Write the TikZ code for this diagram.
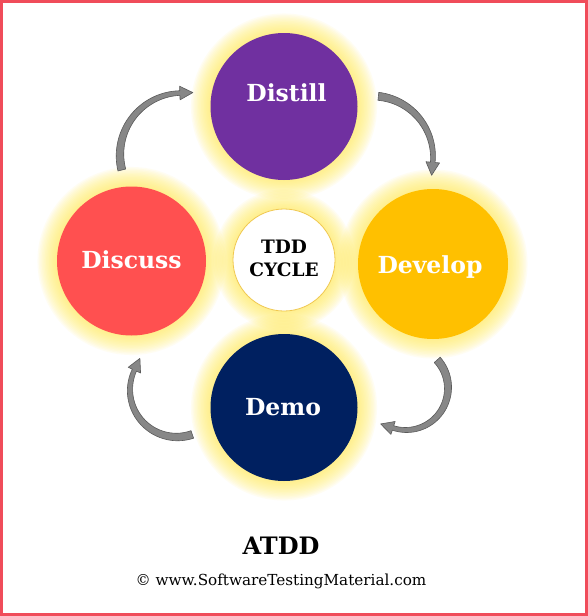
\documentclass[tikz,border=0pt]{standalone}
\usepackage{fontspec}
\setmainfont{DejaVu Serif}
\definecolor{bordercol}{RGB}{240,76,90}
\definecolor{glowc}{RGB}{255,238,90}
\definecolor{cdistill}{RGB}{112,48,160}
\definecolor{cdevelop}{RGB}{255,192,0}
\definecolor{cdemo}{RGB}{0,32,96}
\definecolor{cdiscuss}{RGB}{255,80,80}
\definecolor{ctddedge}{RGB}{240,200,80}
\definecolor{arrfill}{RGB}{135,135,135}
\definecolor{arrdraw}{RGB}{90,90,90}
\tikzset{
  phase/.style={circle, inner sep=0pt, minimum size=#1},
  lbl/.style={anchor=base, text=white, font=\fontsize{23.5}{27}\selectfont\bfseries},
  tddlbl/.style={anchor=base, text=black, font=\fontsize{18.5}{22}\selectfont\bfseries},
  arrowshape/.style={fill=arrfill, draw=arrdraw, line width=0.6pt, line join=round}
}
% curved tapered block arrow: cx, cy, r, tail angle, head-base angle
\newcommand\garrow[5]{%
  \pgfmathsetmacro\gcx{#1}\pgfmathsetmacro\gcy{#2}\pgfmathsetmacro\gr{#3}%
  \pgfmathsetmacro\gta{#4}\pgfmathsetmacro\gtb{#5}%
  \def\gwa{4}\def\gwb{2.3}\def\ghw{6.8}\def\ghl{13}%
  \filldraw[arrowshape]
    plot[domain=\gta:\gtb, samples=40]
      ({\gcx+(\gr+(\gwa+(\gwb-\gwa)*(\x-\gta)/(\gtb-\gta)))*cos(\x)},
       {\gcy+(\gr+(\gwa+(\gwb-\gwa)*(\x-\gta)/(\gtb-\gta)))*sin(\x)})
    -- ({\gcx+(\gr+\ghw)*cos(\gtb)},{\gcy+(\gr+\ghw)*sin(\gtb)})
    -- ({\gcx+\gr*cos(\gtb)-\ghl*sin(\gtb)},{\gcy+\gr*sin(\gtb)+\ghl*cos(\gtb)})
    -- ({\gcx+(\gr-\ghw)*cos(\gtb)},{\gcy+(\gr-\ghw)*sin(\gtb)})
    -- plot[domain=\gtb:\gta, samples=40]
      ({\gcx+(\gr-(\gwa+(\gwb-\gwa)*(\x-\gta)/(\gtb-\gta)))*cos(\x)},
       {\gcy+(\gr-(\gwa+(\gwb-\gwa)*(\x-\gta)/(\gtb-\gta)))*sin(\x)})
    -- cycle;}
\begin{document}
\begin{tikzpicture}[x=1pt,y=-1pt]
\useasboundingbox (0,0) rectangle (588,616);
\fill[white] (0,0) rectangle (588,616);
\draw[bordercol, line width=2.6pt] (1.3,1.3) rectangle (586.7,614.7);

\coordinate (cDistill) at (284,106.5);
\coordinate (cDevelop) at (433,264);
\coordinate (cDemo) at (284,407.5);
\coordinate (cDiscuss) at (131.5,261);
\coordinate (cTdd) at (284,260);

% glows
\foreach \c/\r in {cDistill/73.5, cDevelop/75, cDemo/73.5, cDiscuss/74.5, cTdd/51}{
  \foreach \i in {1,...,14}{
    \pgfmathsetmacro\rr{\r+21-1.45*\i}
    \fill[glowc, opacity=0.075] (\c) circle[radius=\rr pt];
  }
}

% circles
\node[phase=147pt, fill=cdistill] (distill) at (cDistill) {};
\node[phase=150pt, fill=cdevelop] (develop) at (cDevelop) {};
\node[phase=147pt, fill=cdemo] (demo) at (cDemo) {};
\node[phase=149pt, fill=cdiscuss] (discuss) at (cDiscuss) {};
\node[phase=102pt, fill=white, draw=ctddedge, line width=0.8pt] (tdd) at (cTdd) {};

% labels
\node[lbl] (tDistill) at (286.5,101) {Distill};
\node[lbl] (tDevelop) at (430,273) {Develop};
\node[lbl] (tDemo) at (283,415) {Demo};
\node[lbl] (tDiscuss) at (131.5,268) {Discuss};
\node[tddlbl] (tTdd) at (284,253) {TDD};
\node[tddlbl] (tCycle) at (284,276.5) {CYCLE};

% curved arrows (clockwise cycle)
\garrow{182}{155}{62}{166}{268}
\garrow{372}{157}{61}{276}{365}
\garrow{406}{388}{42}{-42}{108}
\garrow{177}{390}{47}{71}{205}

% captions
\node[anchor=base, font=\fontsize{24}{28}\selectfont\bfseries] (title) at (281,554) {ATDD};
\node[anchor=base, font=\fontsize{15.2}{18}\selectfont] (credit) at (281,585.5) {© www.SoftwareTestingMaterial.com};
\end{tikzpicture}
\end{document}
